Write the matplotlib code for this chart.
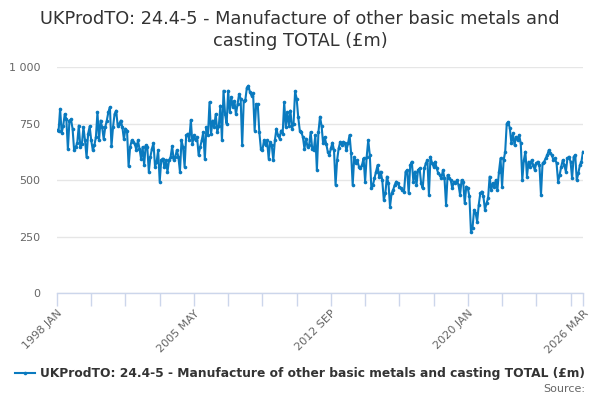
import numpy as np
import pandas as pd
import matplotlib
matplotlib.use("Agg")
import matplotlib.pyplot as plt

title = "UKProdTO: 24.4-5 - Manufacture of other basic metals and\ncasting TOTAL (£m)"
series_name = "UKProdTO: 24.4-5 - Manufacture of other basic metals and casting TOTAL (£m)"
start_month = "1998-01-01"
end_month = "2026-03-01"

vals_1998_2002 = [
    720, 715, 815, 708, 741, 792, 770, 636, 763, 768, 727, 632,
    646, 663, 741, 646, 660, 734, 675, 600, 705, 737, 675, 632,
    653, 690, 800, 675, 763, 734, 681, 734, 763, 800, 822, 649,
    734, 792, 807, 741, 749, 763, 734, 680, 727, 719, 561, 646,
    675, 668, 660, 632, 675, 639, 595, 646, 566, 653, 646, 537,
]
vals_2003_2007 = [
    602, 639, 663, 558, 580, 632, 493, 588, 595, 558, 588, 537,
    588, 602, 649, 588, 602, 632, 602, 537, 675, 646, 558, 697,
    705, 675, 766, 660, 697, 675, 690, 610, 646, 675, 712, 592,
    734, 697, 844, 705, 763, 734, 792, 712, 741, 829, 675, 895,
    792, 749, 895, 800, 866, 822, 850, 790, 836, 880, 860, 653,
]
vals_2008_2012 = [
    850, 853, 909, 917, 888, 873, 883, 719, 836, 836, 712, 639,
    632, 675, 653, 675, 595, 668, 653, 588, 675, 727, 697, 683,
    719, 705, 844, 734, 800, 741, 807, 727, 749, 892, 860, 778,
    719, 712, 690, 639, 683, 646, 653, 712, 639, 632, 697, 544,
    712, 780, 740, 662, 690, 660, 625, 610, 640, 665, 632, 478,
]
vals_2013_2017 = [
    588, 640, 669, 655, 669, 662, 632, 662, 699, 618, 478, 600,
    574, 588, 559, 551, 566, 596, 493, 603, 676, 610, 463, 478,
    507, 537, 566, 515, 537, 500, 412, 441, 515, 485, 382, 441,
    456, 478, 493, 485, 471, 463, 456, 449, 537, 544, 441, 566,
    581, 493, 537, 478, 544, 551, 485, 463, 551, 574, 588, 434,
]
vals_2018_2022 = [
    603, 574, 559, 581, 551, 529, 522, 507, 544, 507, 390, 522,
    507, 500, 463, 493, 485, 500, 478, 434, 500, 493, 397, 471,
    463, 427, 272, 287, 368, 353, 316, 390, 441, 449, 427, 368,
    397, 419, 515, 456, 485, 471, 500, 456, 537, 596, 471, 588,
    625, 750, 757, 728, 662, 706, 654, 691, 676, 698, 662, 500,
]
vals_2023_2026 = [
    588, 625, 515, 581, 559, 588, 566, 544, 574, 581, 566, 434,
    574, 581, 596, 610, 632, 618, 610, 588, 596, 574, 493, 522,
    559, 588, 566, 537, 596, 603, 581, 507, 603, 610, 500, 529,
    566, 581, 625,
]

values = (vals_1998_2002 + vals_2003_2007 + vals_2008_2012
          + vals_2013_2017 + vals_2018_2022 + vals_2023_2026)
months = pd.date_range(start_month, end_month, freq="MS")
n = min(len(months), len(values))
months = months[:n]
values = values[:n]
x = np.arange(n)

line_color = "#0a7abf"
grid_color = "#e6e6e6"
axis_color = "#ccd6eb"
label_color = "#666666"
text_color = "#333333"

fig = plt.figure(figsize=(6, 4), dpi=100)
ax = fig.add_axes([57/600, 1-293/400, (583-57)/600, (293-67)/400])
ax.plot(x, values, color=line_color, lw=1.5, marker="o", ms=2.6,
        markeredgewidth=0, label=series_name, zorder=3)

ax.set_xlim(0, n - 1)
ax.set_ylim(0, 1000)
yt = [0, 250, 500, 750, 1000]
ax.set_yticks(yt)
ax.set_yticklabels(["0", "250", "500", "750", "1 000"])
ax.yaxis.grid(True, color=grid_color, lw=1)
ax.set_axisbelow(True)
for s in ["left", "right", "top"]:
    ax.spines[s].set_visible(False)
ax.spines["bottom"].set_color(axis_color)
ax.spines["bottom"].set_linewidth(1)
ax.tick_params(axis="y", length=0, labelsize=8, labelcolor=label_color, pad=12)

tick_pos = list(range(0, n - 1, 22)) + [n - 1]
labeled = {0, 88, 176, 264, n - 1}
ax.set_xticks(tick_pos)
ax.set_xticklabels([
    f"{months[i].year} {months[i].strftime('%b').upper()}" if i in labeled else ""
    for i in tick_pos
])
ax.tick_params(axis="x", length=9, color=axis_color, width=1,
               labelsize=8, labelcolor=label_color, pad=2)
for lbl in ax.get_xticklabels():
    lbl.set_rotation(45)
    lbl.set_ha("right")
    lbl.set_rotation_mode("anchor")

fig.text(0.5, 1 - 30/400, title, ha="center", va="center", fontsize=12.8,
         color=text_color, linespacing=1.25)

fig.legend(loc="center", bbox_to_anchor=(0.5, 1 - 374/400), frameon=False,
           prop={"weight": "bold", "size": 8.8}, labelcolor=text_color,
           handlelength=1.6, handletextpad=0.4, borderaxespad=0)
fig.text(0.975, 1 - 389/400, "Source:", ha="right", va="center",
         fontsize=8, color=label_color)

fig.savefig("out.png", dpi=100)
